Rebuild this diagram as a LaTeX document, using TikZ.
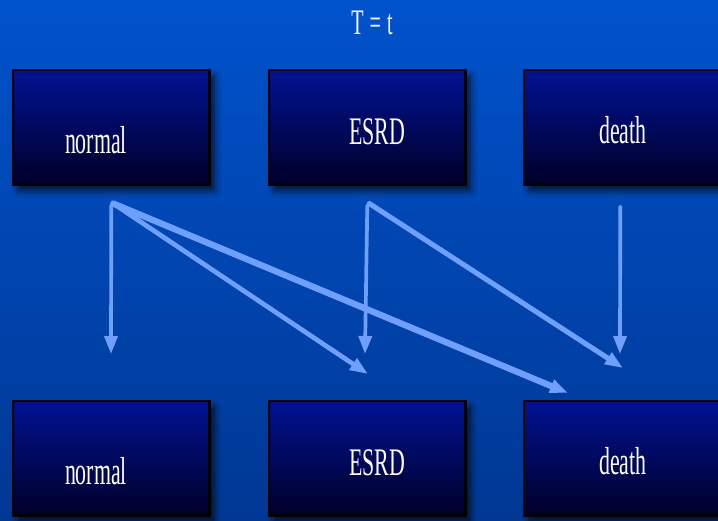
\documentclass[tikz,border=0pt]{standalone}
\usepackage{fontspec}
\usetikzlibrary{arrows.meta,shadows.blur}
\newfontfamily\statefont[FakeStretch=0.56]{Liberation Serif}
\definecolor{slidetop}{RGB}{0,82,204}
\definecolor{slidebot}{RGB}{0,56,148}
\definecolor{boxtop}{RGB}{0,18,146}
\definecolor{boxbot}{RGB}{0,0,40}
\definecolor{flowblue}{RGB}{112,160,255}
\tikzset{
  statebox/.style={draw=black, line width=0.7pt, top color=boxtop, bottom color=boxbot,
    minimum width=1.96cm, minimum height=1.14cm, inner sep=0pt, anchor=north west,
    blur shadow={shadow xshift=0.05cm, shadow yshift=-0.06cm, shadow blur radius=0.07cm, shadow opacity=75}},
  statetext/.style={text=white, inner sep=0pt, anchor=base, font=\statefont\fontsize{11.1}{13}\selectfont},
  flow/.style={draw=flowblue, line cap=round, -{Triangle[length=0.18cm,width=0.13cm]}},
}
\def\statebox#1#2#3#4#5#6{
  % 1: name
  % 2: left x
  % 3: top y
  % 4: text
  % 5: text x
  % 6: text baseline y
  \node[statebox] (#1) at (#2,#3) {};
  \node[statetext] (#1-txt) at (#5,#6) {#4};
}

\begin{document}
\begin{tikzpicture}[x=0.01cm,y=-0.01cm]
    \useasboundingbox (0,0) rectangle (718,520);
    \shade[top color=slidetop,bottom color=slidebot] (0,0) rectangle (718,520);

    \node[statetext, font=\statefont\fontsize{10.2}{12}\selectfont] (title) at (372,34)
      {T\hspace{0.06cm}=\hspace{0.06cm}t};

    % \statebox{name}{x}{y}{text}{tx}{ty}
    \statebox{normalA}{ 12}{ 69}{normal}{ 96}{153}
    \statebox{esrdA}  {268}{ 69}{ESRD}  {377}{144}
    \statebox{deathA} {523}{ 69}{death} {623}{143}
    \statebox{normalB}{ 12}{400}{normal}{ 96}{484}
    \statebox{esrdB}  {268}{400}{ESRD}  {377}{475}
    \statebox{deathB} {523}{400}{death} {623}{474}

    % arrow tips stop short of the lower row
    \coordinate (nn) at (111,354);
    \coordinate (ne) at (368,374);
    \coordinate (nd) at (568,393);
    \coordinate (ee) at (365,354);
    \coordinate (ed) at (623,368);
    \coordinate (dd) at (620,354);

    \draw[flow, line width=1.05pt] ([yshift=-0.2cm]normalA.south) -- (nn);
    \draw[flow, line width=1.35pt] ([xshift=0.02cm,yshift=-0.18cm]normalA.south) -- (ne);
    \draw[flow, line width=1.8pt]  ([xshift=0.02cm,yshift=-0.18cm]normalA.south) -- (nd);
    \draw[flow, line width=1.05pt] ([yshift=-0.2cm]esrdA.south) -- (ee);
    \draw[flow, line width=1.45pt] ([xshift=0.02cm,yshift=-0.18cm]esrdA.south) -- (ed);
    \draw[flow, line width=1.05pt] ([xshift=-0.02cm,yshift=-0.21cm]deathA.south) -- (dd);
\end{tikzpicture}
\end{document}
